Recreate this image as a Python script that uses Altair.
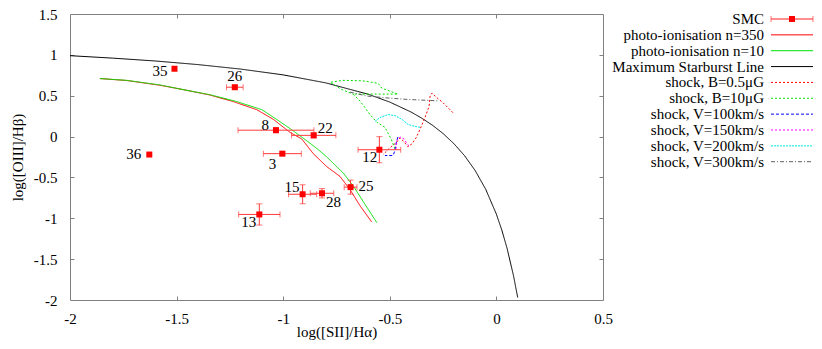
import altair as alt
import pandas as pd

# ---------------- data ----------------
smc_label = ["35", "26", "8", "22", "3", "36", "13", "15", "28", "25", "12"]
smc_x = [-1.510, -1.227, -1.034, -0.857, -1.004, -1.628, -1.112, -0.909, -0.818, -0.684, -0.549]
smc_y = [0.830, 0.604, 0.078, 0.015, -0.209, -0.220, -0.953, -0.706, -0.694, -0.619, -0.161]
smc_xerr = [0.0, 0.039, 0.178, 0.104, 0.089, 0.0, 0.097, 0.066, 0.055, 0.030, 0.100]
smc_yerr = [0.0, 0.020, 0.030, 0.030, 0.020, 0.0, 0.130, 0.116, 0.057, 0.086, 0.160]

p350_x = [-1.86, -1.734, -1.578, -1.46, -1.343, -1.234, -1.124, -1.046, -0.968, -0.913, -0.859, -0.796, -0.734, -0.687, -0.640, -0.585]
p350_y = [0.71, 0.686, 0.628, 0.570, 0.508, 0.428, 0.329, 0.210, 0.051, -0.029, -0.209, -0.367, -0.487, -0.647, -0.845, -1.045]

p10_x = [-1.86, -1.734, -1.578, -1.46, -1.343, -1.22, -1.10, -1.025, -0.953, -0.890, -0.840, -0.796, -0.718, -0.671, -0.616, -0.561]
p10_y = [0.71, 0.688, 0.632, 0.570, 0.512, 0.430, 0.329, 0.200, 0.070, -0.050, -0.150, -0.248, -0.447, -0.606, -0.830, -1.053]

msl_x = [-2.0, -1.8, -1.6, -1.4, -1.2, -1.0, -0.8, -0.6, -0.5, -0.4, -0.35, -0.3, -0.25, -0.2, -0.15, -0.1, -0.05, 0.0, 0.025, 0.05, 0.08, 0.1]
msl_y = [0.990, 0.960, 0.925, 0.881, 0.826, 0.755, 0.657, 0.517, 0.422, 0.300, 0.225, 0.139, 0.037, -0.085, -0.232, -0.414, -0.646, -0.950, -1.141, -1.367, -1.700, -1.970]

b05_x = [-0.204, -0.250, -0.283, -0.302, -0.311, -0.316, -0.335, -0.358, -0.377, -0.396, -0.415, -0.433, -0.452, -0.471, -0.494, -0.518, -0.532]
b05_y = [0.293, 0.413, 0.484, 0.532, 0.496, 0.365, 0.234, 0.090, -0.017, -0.089, -0.125, -0.065, -0.017, -0.077, -0.125, -0.185, -0.220]

b10_x = [-0.476, -0.494, -0.523, -0.560, -0.593, -0.626, -0.649, -0.673, -0.462, -0.537, -0.555, -0.626, -0.720, -0.780, -0.729, -0.673]
b10_y = [-0.149, -0.029, 0.114, 0.174, 0.269, 0.389, 0.461, 0.520, 0.520, 0.592, 0.652, 0.682, 0.688, 0.664, 0.580, 0.520]

v100_x = [-0.462, -0.471, -0.476, -0.485, -0.523]
v100_y = [-0.005, -0.089, -0.173, -0.232, -0.232]

v150_x = [-0.471, -0.466, -0.452, -0.433, -0.419, -0.405]
v150_y = [-0.149, -0.041, -0.005, -0.029, -0.089, -0.125]

v200_x = [-0.569, -0.546, -0.508, -0.476, -0.443, -0.415, -0.386, -0.358]
v200_y = [0.186, 0.234, 0.269, 0.257, 0.210, 0.150, 0.126, 0.114]

v300_x = [-0.687, -0.607, -0.513, -0.419, -0.274]
v300_y = [0.544, 0.496, 0.473, 0.455, 0.437]

series_names = ["SMC", "photo-ionisation n=350", "photo-ionisation n=10",
                "Maximum Starburst Line", "shock, B=0.5μG", "shock, B=10μG",
                "shock, V=100km/s", "shock, V=150km/s", "shock, V=200km/s",
                "shock, V=300km/s"]

x_ticks = [-2, -1.5, -1, -0.5, 0, 0.5]
y_ticks = [-2, -1.5, -1, -0.5, 0, 0.5, 1, 1.5]

# ---------------- styles ----------------
series_colors = ["#ff2020", "#ff0000", "#00e000", "#000000", "#ff0000", "#00e000",
                 "#0000ff", "#ff00ff", "#00e8e8", "#606060"]
series_dash = [[1, 0], [1, 0], [1, 0], [1, 0], [2, 2], [2, 2], [3, 2], [2, 2], [2, 1], [4, 2, 1, 2]]

W, H = 533, 286
FONT = "Liberation Serif"
FS = 15
GRAY = "#808080"
ERR = "#ff3a3a"

label_style = {  # align, dx, dy
    "35": ("right", -7, 2), "36": ("right", -8, -1), "26": ("center", 0, -11),
    "8": ("right", -7, -5), "22": ("left", 4, -7), "3": ("right", -6, 10),
    "13": ("right", -3, 8), "15": ("right", -3, -7), "28": ("left", 4, 9),
    "25": ("left", 8, -1), "12": ("right", -2, 7),
}

# ---------------- tables ----------------
curves = [
    ("photo-ionisation n=350", p350_x, p350_y),
    ("photo-ionisation n=10", p10_x, p10_y),
    ("Maximum Starburst Line", msl_x, msl_y),
    ("shock, B=0.5μG", b05_x, b05_y),
    ("shock, B=10μG", b10_x, b10_y),
    ("shock, V=100km/s", v100_x, v100_y),
    ("shock, V=150km/s", v150_x, v150_y),
    ("shock, V=200km/s", v200_x, v200_y),
    ("shock, V=300km/s", v300_x, v300_y),
]
rows = []
for name, xs_, ys_ in curves:
    for i, (a, b) in enumerate(zip(xs_, ys_)):
        rows.append({"series": name, "idx": i, "x": a, "y": b})
curve_df = pd.DataFrame(rows)

pts = pd.DataFrame({"label": smc_label, "x": smc_x, "y": smc_y,
                    "xerr": smc_xerr, "yerr": smc_yerr})
pts["xlo"] = pts.x - pts.xerr
pts["xhi"] = pts.x + pts.xerr
pts["ylo"] = pts.y - pts.yerr
pts["yhi"] = pts.y + pts.yerr

xb = pts[pts.xerr > 0]
xcaps = pd.DataFrame({"x": list(xb.xlo) + list(xb.xhi), "y": list(xb.y) * 2})
yb = pts[pts.yerr > 0]
ycaps = pd.DataFrame({"x": list(yb.x) * 2, "y": list(yb.ylo) + list(yb.yhi)})

leg_df = pd.DataFrame({"series": series_names})

# ---------------- scales / axes ----------------
xs = alt.Scale(domain=[-2, 0.5], nice=False, zero=False)
ys = alt.Scale(domain=[-2, 1.5], nice=False, zero=False)
cscale = alt.Scale(domain=series_names, range=series_colors)
dscale = alt.Scale(domain=series_names, range=series_dash)

txt = dict(labelFont=FONT, labelFontSize=FS, labelColor="black",
           titleFont=FONT, titleFontSize=FS, titleColor="black",
           titleFontWeight="normal", grid=False)

x_main = alt.Axis(orient="bottom", values=x_ticks, ticks=False, tickSize=0, domain=False,
                  labelExpr="toString(datum.value)", labelPadding=18, labelBaseline="middle",
                  labelFlush=False, labelOverlap=False, title="log([SII]/Hα)",
                  titleY=31, titleBaseline="middle", **txt)
y_main = alt.Axis(orient="left", values=y_ticks, ticks=False, tickSize=0, domain=False,
                  labelExpr="toString(datum.value)", labelPadding=13,
                  labelFlush=False, labelOverlap=False, title="log([OIII]/Hβ)",
                  titleX=-53, titleBaseline="middle", **txt)

tk = dict(labels=False, domain=False, grid=False, ticks=True, tickSize=4,
          tickColor=GRAY, tickWidth=1, title=None)
x_in_bottom = alt.Axis(orient="top", offset=-H, values=x_ticks[1:-1], **tk)
y_in_left = alt.Axis(orient="right", offset=-W, values=y_ticks[1:-1], **tk)
x_in_top = alt.Axis(orient="bottom", offset=-H, values=x_ticks[1:-1], **tk)
y_in_right = alt.Axis(orient="left", offset=-W, values=y_ticks[1:-1], **tk)


def X(f, axis=None):
    return alt.X(f, type="quantitative", scale=xs, axis=axis)


def Y(f, axis=None):
    return alt.Y(f, type="quantitative", scale=ys, axis=axis)


lines = alt.Chart(curve_df).mark_line(strokeWidth=1).encode(
    x=X("x", x_main), y=Y("y", y_main),
    color=alt.Color("series:N", scale=cscale, legend=None),
    strokeDash=alt.StrokeDash("series:N", scale=dscale, legend=None),
    order=alt.Order("idx:Q"),
)

xbars = alt.Chart(pts).mark_rule(color=ERR, strokeWidth=1).encode(
    x=X("xlo", x_in_bottom), x2="xhi", y=Y("y", y_in_left))
ybars = alt.Chart(pts).mark_rule(color=ERR, strokeWidth=1).encode(
    x=X("x", x_in_top), y=Y("ylo", y_in_right), y2="yhi")
xcap = alt.Chart(xcaps).mark_tick(orient="vertical", size=6, thickness=1, color=ERR).encode(
    x=X("x"), y=Y("y"))
ycap = alt.Chart(ycaps).mark_tick(orient="horizontal", size=6, thickness=1, color=ERR).encode(
    x=X("x"), y=Y("y"))
squares = alt.Chart(pts).mark_square(size=36, color="#ff0000", opacity=1).encode(
    x=X("x"), y=Y("y"))

label_layers = []
for lab in smc_label:
    al, dx, dy = label_style[lab]
    label_layers.append(
        alt.Chart(pts).transform_filter(alt.datum.label == lab).mark_text(
            font=FONT, fontSize=FS, align=al, baseline="middle", dx=dx, dy=dy, color="black"
        ).encode(x=X("x"), y=Y("y"), text="label:N")
    )

# ---------------- legend (right of plot) ----------------
ly = alt.Y("series:N", scale=alt.Scale(type="point", domain=series_names, range=[5, 147.7], padding=0),
           axis=None)
leg_text = alt.Chart(leg_df).mark_text(font=FONT, fontSize=FS, align="right",
                                       baseline="middle", color="black").encode(
    x=alt.value(694), y=ly, text="series:N")
leg_line = alt.Chart(leg_df).mark_rule(strokeWidth=1).encode(
    x=alt.value(701), x2=alt.value(743), y=ly,
    color=alt.Color("series:N", scale=cscale, legend=None),
    strokeDash=alt.StrokeDash("series:N", scale=dscale, legend=None))
smc_only = leg_df[leg_df.series == "SMC"]
leg_sq = alt.Chart(smc_only).mark_square(size=36, color="#ff0000", opacity=1).encode(
    x=alt.value(722), y=ly)
leg_cap1 = alt.Chart(smc_only).mark_tick(orient="vertical", size=6, thickness=1, color=ERR).encode(
    x=alt.value(701), y=ly)
leg_cap2 = alt.Chart(smc_only).mark_tick(orient="vertical", size=6, thickness=1, color=ERR).encode(
    x=alt.value(743), y=ly)

chart = alt.layer(
    lines, xbars, ybars, xcap, ycap, squares, *label_layers,
    leg_text, leg_line, leg_sq, leg_cap1, leg_cap2,
).resolve_scale(
    x="independent", y="independent"
).properties(
    width=W, height=H,
    autosize=alt.AutoSizeParams(type="none"),
    padding={"left": 62, "top": 6, "right": 211, "bottom": 41},
    background="white",
).configure_view(
    stroke=GRAY, strokeWidth=1
)

chart.save("out.html", embed_options={"renderer": "svg", "actions": False})
